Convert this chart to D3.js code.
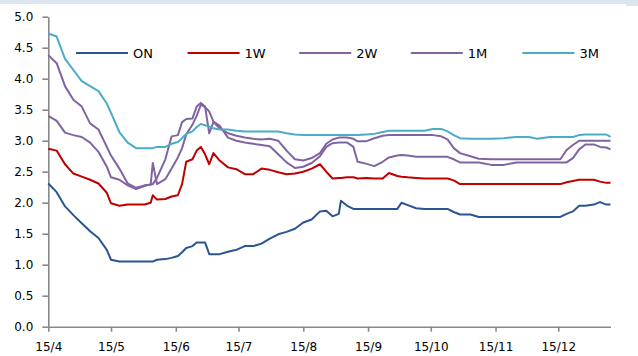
<!DOCTYPE html>
<html>
<head>
<meta charset="utf-8">
<script src="https://cdn.jsdelivr.net/npm/d3@7"></script>
<style>
  body { margin: 0; background: #fff; }
  #container { width: 638px; height: 356px; }
</style>
</head>
<body>
<div id="container"></div>
<script>
// dates of the readings (2015), month-day
const dates = [
  "04-01","04-05","04-09","04-13","04-17","04-21","04-25","04-29",
  "05-01","05-05","05-09","05-13","05-17","05-20","05-21","05-23","05-27","05-30",
  "06-02","06-04","06-06","06-09","06-11","06-13","06-15","06-17","06-19","06-22","06-26","06-30",
  "07-04","07-08","07-12","07-16","07-20","07-24","07-28",
  "08-01","08-05","08-09","08-12","08-15","08-18","08-19","08-22","08-25","08-27","08-31",
  "09-04","09-08","09-11","09-15","09-17","09-20","09-24","09-28",
  "10-02","10-06","10-09","10-12","10-15","10-20","10-24","10-30",
  "11-05","11-11","11-17","11-21","11-27",
  "12-02","12-05","12-08","12-11","12-14","12-18","12-21","12-24","12-26"
];

const seriesNames = ["ON", "1W", "2W", "1M", "3M"];

const valuesON = [
  2.31, 2.17, 1.94, 1.80, 1.67, 1.54, 1.43, 1.24,
  1.08, 1.05, 1.05, 1.05, 1.05, 1.05, 1.05, 1.08, 1.09, 1.11,
  1.14, 1.20, 1.27, 1.30, 1.36, 1.36, 1.36, 1.17, 1.17, 1.17, 1.21, 1.24,
  1.30, 1.30, 1.34, 1.42, 1.49, 1.53, 1.58,
  1.68, 1.73, 1.86, 1.87, 1.78, 1.82, 2.03, 1.95, 1.90, 1.90, 1.90,
  1.90, 1.90, 1.90, 1.90, 2.00, 1.96, 1.91, 1.90,
  1.90, 1.90, 1.90, 1.85, 1.81, 1.81, 1.77, 1.77,
  1.77, 1.77, 1.77, 1.77, 1.77,
  1.77, 1.82, 1.86, 1.95, 1.95, 1.97, 2.01, 1.97, 1.97
];
const values1W = [
  2.87, 2.84, 2.62, 2.47, 2.42, 2.37, 2.31, 2.16,
  1.99, 1.95, 1.97, 1.97, 1.97, 2.00, 2.12, 2.05, 2.06, 2.10,
  2.12, 2.30, 2.66, 2.70, 2.84, 2.90, 2.78, 2.62, 2.80, 2.68, 2.57, 2.54,
  2.46, 2.46, 2.55, 2.53, 2.49, 2.46, 2.47,
  2.50, 2.55, 2.62, 2.50, 2.39, 2.40, 2.40, 2.41, 2.41, 2.39, 2.40,
  2.39, 2.39, 2.48, 2.43, 2.42, 2.41, 2.40, 2.39,
  2.39, 2.39, 2.39, 2.36, 2.30, 2.30, 2.30, 2.30,
  2.30, 2.30, 2.30, 2.30, 2.30,
  2.30, 2.33, 2.35, 2.37, 2.37, 2.37, 2.34, 2.32, 2.32
];
const values2W = [
  3.40, 3.32, 3.13, 3.09, 3.06, 2.97, 2.82, 2.58,
  2.41, 2.37, 2.28, 2.22, 2.27, 2.30, 2.64, 2.30, 2.38, 2.55,
  2.73, 2.88, 3.10, 3.26, 3.40, 3.58, 3.54, 3.47, 3.31, 3.24, 3.05, 3.00,
  2.97, 2.95, 2.93, 2.91, 2.78, 2.65, 2.56,
  2.58, 2.64, 2.75, 2.90, 2.96, 2.97, 2.97, 2.97, 2.90, 2.66, 2.63,
  2.59, 2.66, 2.73, 2.76, 2.77, 2.76, 2.74, 2.74,
  2.74, 2.74, 2.74, 2.70, 2.65, 2.65, 2.65, 2.61,
  2.61, 2.65, 2.65, 2.65, 2.65,
  2.65, 2.65, 2.72, 2.86, 2.94, 2.94, 2.90, 2.89, 2.86
];
const values1M = [
  4.38, 4.25, 3.88, 3.66, 3.55, 3.28, 3.18, 2.90,
  2.76, 2.55, 2.31, 2.24, 2.28, 2.29, 2.30, 2.40, 2.70, 3.07,
  3.09, 3.30, 3.35, 3.36, 3.55, 3.61, 3.55, 3.12, 3.30, 3.20, 3.12, 3.08,
  3.05, 3.03, 3.02, 3.03, 3.00, 2.84, 2.70,
  2.68, 2.72, 2.80, 2.95, 3.02, 3.05, 3.05, 3.05, 3.03, 2.99, 2.99,
  3.04, 3.08, 3.09, 3.09, 3.09, 3.09, 3.09, 3.09,
  3.09, 3.07, 3.02, 2.88, 2.80, 2.75, 2.71, 2.70,
  2.70, 2.70, 2.70, 2.70, 2.70,
  2.70, 2.85, 2.93, 3.00, 3.00, 3.00, 3.00, 3.00, 3.00
];
const values3M = [
  4.73, 4.68, 4.32, 4.14, 3.96, 3.88, 3.80, 3.60,
  3.45, 3.14, 2.97, 2.88, 2.88, 2.88, 2.88, 2.90, 2.90, 2.95,
  2.98, 3.04, 3.11, 3.15, 3.22, 3.27, 3.25, 3.23, 3.20, 3.18, 3.18, 3.16,
  3.15, 3.15, 3.15, 3.15, 3.15, 3.12, 3.10,
  3.09, 3.09, 3.09, 3.09, 3.09, 3.09, 3.09, 3.09, 3.09, 3.09, 3.10,
  3.11, 3.14, 3.16, 3.16, 3.16, 3.16, 3.16, 3.16,
  3.19, 3.19, 3.15, 3.09, 3.04, 3.03, 3.03, 3.03,
  3.04, 3.06, 3.06, 3.03, 3.06,
  3.06, 3.06, 3.06, 3.09, 3.10, 3.10, 3.10, 3.10, 3.06
];

const yTicks = [0, 0.5, 1, 1.5, 2, 2.5, 3, 3.5, 4, 4.5, 5];
const colors = ["#2A5591", "#C00000", "#8064A2", "#8064A2", "#4BACC6"];

const main = (container) => {
    const W = 638, H = 356;
    const parse = d3.timeParse("%Y-%m-%d");
    const days = dates.map(s => parse("2015-" + s));
    const allValues = [valuesON, values1W, values2W, values1M, values3M];

    const svg = d3.select(container)
        .append("svg")
        .attr("width", W)
        .attr("height", H)
        .style("font-family", "'DejaVu Sans', sans-serif");

    // light frame strip at the top
    svg.append("rect").attr("x", 0).attr("y", 0).attr("width", W).attr("height", 4).attr("fill", "#DCE6F1");
    svg.append("rect").attr("x", 626).attr("y", 0).attr("width", 12).attr("height", 6).attr("fill", "#DCE6F1");

    const x = d3.scaleTime()
        .domain([days[0], days[days.length - 1]])
        .range([48.3, 610.5]);

    const y = d3.scaleLinear()
        .domain([0, 5])
        .range([326.7, 16.7]);

    const axisColor = "#898989";

    const yAxis = svg.append("g")
        .attr("transform", `translate(${x.range()[0]},0)`)
        .call(d3.axisLeft(y)
            .tickValues(yTicks)
            .tickFormat(d3.format(".1f"))
            .tickSize(6)
            .tickSizeOuter(0)
            .tickPadding(9));

    const monthTicks = d3.timeMonth.range(parse("2015-04-01"), parse("2015-12-02"));
    const xAxis = svg.append("g")
        .attr("transform", `translate(0,${y(0)})`)
        .call(d3.axisBottom(x)
            .tickValues(monthTicks)
            .tickFormat(d3.timeFormat("%y/%-m"))
            .tickSize(5)
            .tickSizeOuter(0)
            .tickPadding(11));

    [yAxis, xAxis].forEach(g => {
        g.select(".domain").attr("stroke", axisColor).attr("stroke-width", 1.6);
        g.selectAll(".tick line").attr("stroke", axisColor).attr("stroke-width", 1.6);
        g.selectAll(".tick text")
            .attr("fill", "#000")
            .style("font-size", "12px")
            .style("font-family", "'DejaVu Sans', sans-serif");
    });

    const line = d3.line()
        .x((d, i) => x(days[i]))
        .y(d => y(d));

    allValues.forEach((vals, k) => {
        svg.append("path")
            .datum(vals)
            .attr("fill", "none")
            .attr("stroke", colors[k])
            .attr("stroke-width", 2)
            .attr("stroke-linejoin", "round")
            .attr("d", line);
    });

    // legend
    const legend = svg.append("g").attr("transform", "translate(76,53)");
    seriesNames.forEach((name, k) => {
        const g = legend.append("g").attr("transform", `translate(${k * 111.6},0)`);
        g.append("line")
            .attr("x1", 0).attr("x2", 52)
            .attr("y1", 0).attr("y2", 0)
            .attr("stroke", colors[k])
            .attr("stroke-width", 2);
        g.append("text")
            .attr("x", 57)
            .attr("y", 0)
            .attr("dy", "0.36em")
            .style("font-size", "13px")
            .text(name);
    });
};

main(document.getElementById("container"));
</script>
</body>
</html>
